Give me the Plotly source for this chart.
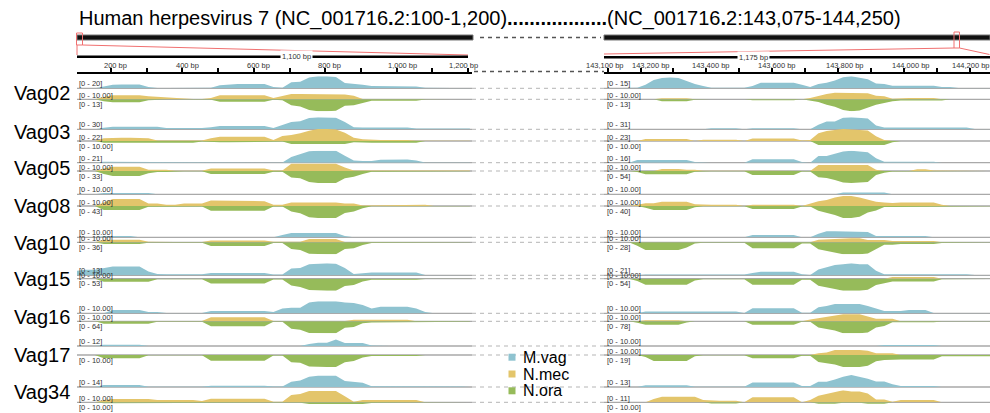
import plotly.graph_objects as go

# ---------------------------------------------------------------- data
SAMPLES = ["Vag02", "Vag03", "Vag05", "Vag08", "Vag10", "Vag15", "Vag16", "Vag17", "Vag34"]
SERIES = ["M.vag", "N.mec", "N.ora"]

LEFT_BP = list(range(105, 1206, 25))        # 45 bins, NC_001716.2:100-1,200
RIGHT_BP = list(range(143090, 144266, 25))  # 48 bins, NC_001716.2:143,075-144,250

# data-range labels per sample (IGV autoscale)
L_RANGE_MVAG = ["20", "30", "21", "10.00", "10.00", "13", "10.00", "12", "14"]
L_RANGE_NMEC = ["10.00", "22", "10.00", "10.00", "10.00", "10.00", "10.00", None, "10.00"]
L_RANGE_NORA = ["13", "10.00", "33", "43", "36", "53", "64", "10.00", "10.00"]
R_RANGE_MVAG = ["15", "31", "16", "10.00", "10.00", "21", "10.00", "10.00", "13"]
R_RANGE_NMEC = ["10.00", "23", "10.00", "10.00", "10.00", "10.00", "10.00", "10.00", "11"]
R_RANGE_NORA = ["13", "10.00", "54", "40", "28", "54", "78", "19", "10.00"]

LEFT_TICKS = list(range(200, 1201, 100))
RIGHT_TICKS = list(range(143100, 144201, 100))
LEFT_LABEL_VALS = [200, 400, 600, 800, 1000, 1200]
LEFT_LABEL_TEXT = ["200 bp", "400 bp", "600 bp", "800 bp", "1,000 bp", "1,200 bp"]
RIGHT_LABEL_VALS = [143100, 143200, 143400, 143600, 143800, 144000, 144200]
RIGHT_LABEL_TEXT = ["143,100 bp", "143,200 bp", "143,400 bp", "143,600 bp",
                    "143,800 bp", "144,000 bp", "144,200 bp"]

# ---- left panel coverage (LEFT_BP bins)
L_VAG02_MVAG = [0,0,0,3,6, 6.5,6.5,6.5,2,0.5, 0.5,0.5,0.5,0.5,0.5, 1,5,6.5,7,7, 7,7,2,1,10,
                11,18,20,20,19, 9,8,6,4,4, 4,4,4,3,1, 0.5,0.5,0.5,0.5,0.5]
L_VAG02_NMEC = [0,0,0,2,3.3, 3.3,3.3,3.3,2.5,2, 1.5,1,0.3,0.3,0.3, 1,3.3,3.3,3.3,3.3, 3.3,3.3,1,3,4.5,
                4.5,4.5,4.5,4.5,4.5, 4,3,0.3,0.3,0.3, 0.3,0.3,0.3,0.3,0.3, 0.3,0.3,0,0,0]
L_VAG02_NORA = [0,0,0,2,3.3, 3.3,3.3,3.3,1,0.3, 0.3,0.3,0.3,0.3,0.3, 0.5,2.6,2.6,2.6,2.6, 2.6,2.6,0.5,1,6.5,
                7.8,11.5,13,13,12.5, 7,6.5,4,1.5,1.5, 1.5,1.5,1.5,1.5,0.3, 0,0,0,0,0]
L_VAG03_MVAG = [0,0,0,4,6.5, 6.5,6.5,6.5,6.5,6.5, 3,3,3,3,3, 5,8.5,8.5,8.5,8.5, 8.5,8.5,3,10,18,
                20,28,30,30,29, 18,5,4.5,4.5,4.5, 4.5,4.5,4.5,2,2, 2,2,2,2,2]
L_VAG03_NMEC = [0,0,0,5,6, 6,6,6,5,1, 1,1,1,1,1, 5,8,8,8,8, 8,8,2,9,11,
                14,19,22,22,21, 15,6,3,2,2, 2,2,2,0.3,0.3, 0.3,0.3,0.3,0.3,0.3]
L_VAG03_NORA = [0,0,0,1.5,1.5, 1.5,1.5,1.5,1,1.5, 1.5,1.5,1.5,1.5,0.5, 1,1,1,1,1, 1,1,0.5,0.5,2.5,
                2.5,2.5,2.5,2.5,2.5, 2.5,1,1.5,1.5,1.5, 1.5,1.5,1.5,1.5,0, 0,0,0,0,0]
L_VAG05_MVAG = [0,0,0,1.5,1.5, 1.5,1.5,1.5,0.3,0.3, 0.3,0.3,0.3,0.3,0.3, 0.3,0.3,0.3,0.3,0.3, 0.3,0.3,0.3,0.3,10,
                15,20,21,21,21, 12,4,3,3,5, 5.5,5.5,5.5,4,0.5, 0.5,0.5,0.5,0.5,0.5]
L_VAG05_NMEC = [0,0,0,2,3.6, 3.6,3.6,3.6,1,1, 1,0.3,0.3,0.3,0.3, 2,2,2,2,2, 2,2,0.5,0.5,6,
                6,6,6,6,6, 3,0.5,0.5,0.5,0.5, 0.5,0.5,0.5,0.5,0.5, 0.5,0.5,0.5,0.5,0.5]
L_VAG05_NORA = [0,0,0,8,14, 14,14,14,6,3, 3,1,1,1,1, 8,8,8,8,8, 8,8,2,2,18,
                20,30,33,33,33, 20,16,8,2,2, 2,2,2,2,0.5, 0.5,0.5,0.5,0.5,0.5]
L_VAG08_MVAG = [0,0,0,1,1, 1,1,1,1,0] + [0] * 35
L_VAG08_NMEC = [0,0,0,3,5.8, 5.8,5.8,5.8,2,2, 1,1,2,2,2, 4.5,4.5,4,4,4, 4,4,1,1,3,
                3,3,3,3,3, 2,2,0.5,0.5,1, 1,1,1,1,1, 0,0,0,0,0]
L_VAG08_NORA = [0,0,0,14,14, 14,14,14,3,3, 2,2,2,2,2, 17,17,17,17,17, 17,17,2,2,20,
                26,40,43,43,43, 25,20,8,1,1, 1,1,1,1,1, 1,1,1,1,1]
L_VAG10_MVAG = [0,0,0,1,1, 1,1,0,0,0, 0,0,0,0,0, 0,0,0,0,0, 0,0,0,2,3.5,
                3.5,3.5,3.5,3.5,3.5, 1,0,0,0,0, 0,0,0,0,0, 0,0,0,0,0]
L_VAG10_NMEC = [0,0,0,2.2,2.2, 2.2,2.2,2.2,0.5,0.2, 0.2,0.2,0.2,0.2,0.2, 1.4,1.4,1.4,1.4,1.4, 1.4,1.4,0.5,0.5,0.5,
                0.5,2.8,2.8,2.8,2.8, 0.3,0.3,0.3,0.3,0.3, 0.3,0.3,0.3,0.3,0, 0,0,0,0,0]
L_VAG10_NORA = [0,0,0,5,5, 5,5,5,1,1, 1,1,1,1,1, 11,11,11,11,11, 11,11,2,2,20,
                23,34,36,36,36, 20,18,8,2,2, 2,2,2,2,0.5, 0.5,0.5,0.5,0.5,0.5]
L_VAG15_MVAG = [5,6,6,8,9.5, 9.5,9.5,9.5,4,1.5, 1.2,1.2,1.2,1.2,1.2, 2.6,2.6,2.6,2.6,2.6, 2.6,2.6,1,1,7.5,
                8,12,12.5,13,12.5, 8,1.5,2.5,3,3, 3,3,3,3,0.3, 0.3,0.3,0.3,0.3,0.3]
L_VAG15_NMEC = [0,0,0,0.2,0.2, 0.2,0.2,0.2,0.2,0, 0,0,0,0,0, 0.2,0.2,0.2,0.2,0.2, 0.2,0.2,0,0,0.3,
                0.3,0.3,0.3,0.3,0.3, 0.3,0,0,0,0, 0,0,0,0,0, 0,0,0,0,0]
L_VAG15_NORA = [0,0,0,13,13, 13,13,13,13,2, 2,2,2,2,2, 21,21,21,21,21, 21,21,3,3,30,
                37,50,53,53,53, 32,28,12,5,5, 5,5,5,5,1, 1,1,1,1,1]
L_VAG16_MVAG = [0,0,0,0,2.8, 2.8,2.8,2.8,1,1, 0.3,0.3,0.3,0.3,0.3, 2,2,2,2,2, 2,2,1,4,4.7,
                4.7,9,10,10,10, 9,8.5,7,4,5.5, 5.5,5.5,5.5,4,1, 0,0,0,0,0]
L_VAG16_NMEC = [0.2,0.2,0.2,0.2,0.2, 0.2,0.2,0.2,0.2,0.2, 0.2,0.2,0.2,0.2,0.2, 3.3,3.3,3.3,3.3,3.3, 3.3,3.3,0.2,0.2,0.2,
                0.2,0.2,0.2,0.2,0.2, 0.2,1.2,1.2,1.2,1.2, 1.2,1.2,1.2,0,0, 0,0,0,0,0]
L_VAG16_NORA = [0,0,0,13,13, 13,13,13,13,3, 3,3,3,3,3, 27,27,27,27,27, 27,27,3,3,40,
                45,62,64,64,64, 35,30,10,6,6, 6,6,6,6,3, 3,3,3,3,3]
L_VAG17_MVAG = [0,0,0,1.2,1.2, 1.2,1.2,1.2,0,0, 0,0,0,0,0, 0,0,0,0,0, 0,0,0,0,0,
                0,2,3.3,3.3,6.5, 3,3,3,0.5,0, 0,0,0,0,0, 0,0,0,0,0]
L_VAG17_NMEC = None
L_VAG17_NORA = [0,0,0,2.8,2.8, 2.8,2.8,2.8,0.3,0.3, 0.3,0.3,0.3,0.3,0.3, 4.7,4.7,4.7,4.7,4.7, 4.7,4.7,0.5,0.5,6,
                6.5,9.5,10,10,10, 6,5,2,0.8,0.8, 0.8,0.8,0.8,0.8,0, 0,0,0,0,0]
L_VAG34_MVAG = [0,0,0,2.4,2.4, 2.4,2.4,2.4,0.3,0.3, 0.3,0.3,0.3,0.3,0.3, 1.4,1.4,1.4,1.4,1.4, 1.4,1.4,0.5,0.5,6,
                7.5,12,13,13,13, 7,6,5,1,1, 1,1,1,1,0.3, 0.7,0.7,0.7,0.7,0]
L_VAG34_NMEC = [0,0,0,2,2.8, 2.8,2.8,2.8,2.8,2, 2,2,2,2,1, 3,3,3,3,3, 3,3,0.5,0.5,6,
                7,9.4,9.4,9.4,9.4, 5,0.5,2,2,2, 2,2,2,2,0, 0,0,0,0,0]
L_VAG34_NORA = [0,0,0,0.8,0.8, 0.8,0.8,0.8,0.8,0.8, 0.8,0.8,0.8,0.8,0.3, 0.3,0.3,0.3,0.3,0.3, 0.3,0.3,0.3,0.3,0.3,
                0.3,1.5,1.5,1.5,1.5, 1.5,1.5,1.5,0.5,0.5, 0.5,0.5,0.5,0.5,0, 0,0,0,0,0]

# ---- right panel coverage (RIGHT_BP bins)
R_VAG02_MVAG = [0,0,0,0,0.8, 4.5,10.5,12.8,13.5,12.8, 9,5.3,3,0.8,0.8, 0.8,0.8,0.8,3,7, 7,7,7,7,4.5,
                1.5,5.3,6.8,9.8,13.8, 15,13.5,11.3,6,5.3, 3.3,3.3,3.3,3.3,3.3, 3.3,1.5,1.5,0.5,0.5, 0.5,0.5,0.5]
R_VAG02_NMEC = [0,0,0,0,0, 0,0,0.8,0.8,0.8, 0.8,0,0,0,0, 0,0,0,0,0, 0,0,0,0,0,
                1,3,4.5,5.5,5.5, 5.5,5.5,5,3,2.5, 0.5,1,1,1,1, 1,0,0,0,0, 0,0,0]
R_VAG02_NORA = [0,0,0,0,0, 0,0,2.2,2.2,2.2, 2.2,0.5,0,0,0, 0,0,0,1,1, 1,1,1,1,0,
                1.5,3,6,8,11.5, 13,12,9,6,4, 2,1.3,1.3,1.3,1.3, 1.3,1.3,0,0,0, 0,0,0]
R_VAG03_MVAG = [0,0,0,0,0, 1.5,1.5,1.5,1.5,1.5, 1.5,0,0,3,3, 3,3,0,3,3, 3,3,3,3,0,
                0,12,20,20,30, 31,30,28,10,4.5, 4.5,4.5,4.5,4.5,4.5, 4.5,4.5,4.5,4.5,4.5, 1,1,1]
R_VAG03_NMEC = [0,0,0,0,0, 4,4,4,4,4, 4,0,2.5,2.5,2.5, 2.5,2.5,0,5,5, 5,5,5,5,1,
                2,15,19,21,23, 22,21,20,9,2, 0,0,0,0,0, 0,0,0,0,0, 0,0,0]
R_VAG03_NORA = [0,0,0,0,0, 0,0,0,0,0, 0,0,0,0,0, 0,0,0,0.5,0.5, 0.5,0.5,0.5,0.5,0,
                0,3.3,3.3,3.3,3.3, 3.3,3.3,3.3,3.3,3.3, 1,0,0,0,0, 0,0,0,0,0, 0,0,0]
R_VAG05_MVAG = [0,0,0,0,3.5, 3.5,3.5,3.5,3.5,3.5, 3.5,1,0,0,0, 0,0,0,4.5,4.5, 4.5,4.5,4.5,4.5,1,
                0,8.8,9,12,15, 16,15,14,6,1.3, 1.3,1.3,1.3,1.3,1.3, 1.3,0,0,0,0, 0,0,0]
R_VAG05_NMEC = [0,0,0,0,0, 0,0,1.7,1.7,1.7, 1,1,0.3,0.3,0.3, 0,0,0,0,0, 0,0,0,0,0,
                0,5,5,5,5, 5,5,5,1,0, 0,0,0,1.5,1.5, 0.5,0.5,0.5,0.5,0.5, 0,0,0]
R_VAG05_NORA = [0,0,0,0,5, 15,15,15,15,15, 15,3,1,1,1, 1,1,1,18,18, 18,18,18,18,2,
                2,28,32,40,52, 54,52,50,18,8, 2,2,2,2,2, 2,2,2,2,2, 0.5,0.5,0.5]
R_VAG08_MVAG = [0] * 29 + [1.4, 1.4, 1.4, 1.4, 1.4, 1.4] + [0] * 13
R_VAG08_NMEC = [0,0,0,0,1, 2.2,2.2,3.6,3.6,3.6, 3.6,1.5,1,1,1, 1,1,0,1,1, 1,1,1,1,0,
                2,4,5,7,8.3, 8.3,7,5,3.5,3, 2.5,3,3,3,3, 3,1,0,0,0, 0,0,0]
R_VAG08_NORA = [0,0,0,0,0, 6,13,13,13,13, 13,4,1,1,1, 1,1,1,10,10, 10,10,10,10,1.5,
                1.5,16,22,30,40, 40,36,22,15,3, 3,3,3,3,3, 3,3,0.5,0.5,0.5, 0.5,0.5,0.5]
R_VAG10_MVAG = [0,0,0,0,0, 0,0,0,0,0, 0,0,0,0,0, 0,0,0,2,2, 2,2,2,2,0,
                0,3,5,5,5, 5,5,4.5,1,1, 1,1,1,1,1, 0,0,0,0,0, 0,0,0]
R_VAG10_NMEC = [0,0,0,0,0, 0,0,0.6,0.6,0.6, 0.6,0.6,0.6,0.6,0.6, 0.6,0.6,0,0,0, 0,0,0,0,0,
                0,2.2,2.5,3.3,3.3, 3.3,3.3,2,2,2, 1,1,1,1,1, 1,0,0,0,0, 0,0,0]
R_VAG10_NORA = [0,0,0,0,8, 18,18,18,18,18, 12,3,1,1,1, 1,1,1,14,14, 14,14,14,14,3,
                3,16,20,25,28, 28,28,26,15,6, 6,4,4,4,4, 4,1.5,1.5,1.5,1.5, 1.5,0.5,0.5]
R_VAG15_MVAG = [0,0,0,0,0, 1.5,1.5,1.5,1.5,1.5, 1.5,1.5,1.5,1.5,1.5, 1.5,1.5,1.5,4,6, 6,6,6,6,2,
                0.5,10,14,18,19.5, 21,19.5,19.5,8,2, 2,2,2,2,2, 2,2,2,2,2, 0.5,0.5,0.5]
R_VAG15_NMEC = [0] * 35 + [1.5, 1.5, 1.5, 1.5, 1.5, 1.5] + [0] * 7
R_VAG15_NORA = [0,0,0,0,10, 27,27,27,27,27, 27,8,2,2,2, 2,2,2,27,27, 27,27,27,27,5,
                5,32,38,46,54, 54,54,50,28,20, 13,13,13,13,13, 13,3,3,3,3, 3,1,1]
R_VAG16_MVAG = [0,0,0,0,0, 1.4,1.4,1.4,1.4,1.4, 1.4,1.4,1.4,1.4,1.4, 1.4,1.4,0.2,4.2,4.2, 4.2,4.2,4.2,4.2,0.5,
                0.5,5,6,7.8,7.8, 7.8,7.8,6,4,2, 2,2,2.8,2.8,2.8, 0.2,0.2,0.2,0.2,0.2, 0.2,0.2,0.2]
R_VAG16_NMEC = [0,0,0,0,0, 0.8,0.8,0.8,0.8,0.8, 0,0,0,0,0, 0,0,0,0,0, 0,0,0,0,0,
                1.5,2.5,3.6,4.5,5.8, 5.8,5.8,4,2.2,2.2, 2.2,0,0,0,0, 0,0,0,0,0, 0,0,0]
R_VAG16_NORA = [0,0,0,0,10, 22,22,22,22,22, 8,0,0,0,0, 0,0,0,22,22, 22,22,22,22,3,
                3,40,50,60,78, 78,78,72,40,30, 6,6,6,6,6, 6,1,1,1,1, 1,1,1]
R_VAG17_MVAG = [0] * 34 + [0.8] * 7 + [0] * 7
R_VAG17_NMEC = [0] * 26 + [1.5, 2, 4.2, 4.2, 4.2, 4.2, 3.5, 1.4, 1.4, 1.4] + [0] * 12
R_VAG17_NORA = [0,0,0,0,0, 3,9.5,9.5,9.5,9.5, 9.5,2,0.5,0.5,0.5, 0.5,0.5,0.5,5.3,5.3, 5.3,5.3,5.3,5.3,1,
                1,11,13,15,19, 19,19,17,10,8, 7,7,7,7,7, 7,2,2,2,2, 2,2,2]
R_VAG34_MVAG = [0,0,0,0,0, 1.8,1.8,1.8,1.8,1.8, 1.8,0.3,0.3,0.3,0.3, 0.3,0.3,0.3,5,5, 5,5,5,5,1,
                1,5.8,5.8,8,11.2, 13,11.2,9,6,6, 3,1,1,1,1, 1,0,0,0,0, 0,0,0]
R_VAG34_NMEC = [0,0,0,0,0, 0,3,5.2,5.2,5.2, 5.2,5.2,2,1.5,1.5, 1.5,1.5,0,4.6,4.6, 4.6,4.6,4.6,4.6,0,
                2,6,7.7,10,11, 10,10,8,2.5,2.5, 0.5,2.2,2.2,2.2,2.2, 2.2,0,0,0,0, 0,0,0]
R_VAG34_NORA = [0,0,0,0,0, 0,0,0,0,0, 0,0,0,1,1, 1,1,0,0,0, 0,0,0,0,0,
                0,1.2,1.2,1.2,0.3, 0.3,0.3,1.2,1.2,1.2, 0,0,0,0,0, 0,0,0,0,0, 0,0,0]

LEFT_DATA = [
    (L_VAG02_MVAG, L_VAG02_NMEC, L_VAG02_NORA), (L_VAG03_MVAG, L_VAG03_NMEC, L_VAG03_NORA),
    (L_VAG05_MVAG, L_VAG05_NMEC, L_VAG05_NORA), (L_VAG08_MVAG, L_VAG08_NMEC, L_VAG08_NORA),
    (L_VAG10_MVAG, L_VAG10_NMEC, L_VAG10_NORA), (L_VAG15_MVAG, L_VAG15_NMEC, L_VAG15_NORA),
    (L_VAG16_MVAG, L_VAG16_NMEC, L_VAG16_NORA), (L_VAG17_MVAG, L_VAG17_NMEC, L_VAG17_NORA),
    (L_VAG34_MVAG, L_VAG34_NMEC, L_VAG34_NORA)]
RIGHT_DATA = [
    (R_VAG02_MVAG, R_VAG02_NMEC, R_VAG02_NORA), (R_VAG03_MVAG, R_VAG03_NMEC, R_VAG03_NORA),
    (R_VAG05_MVAG, R_VAG05_NMEC, R_VAG05_NORA), (R_VAG08_MVAG, R_VAG08_NMEC, R_VAG08_NORA),
    (R_VAG10_MVAG, R_VAG10_NMEC, R_VAG10_NORA), (R_VAG15_MVAG, R_VAG15_NMEC, R_VAG15_NORA),
    (R_VAG16_MVAG, R_VAG16_NMEC, R_VAG16_NORA), (R_VAG17_MVAG, R_VAG17_NMEC, R_VAG17_NORA),
    (R_VAG34_MVAG, R_VAG34_NMEC, R_VAG34_NORA)]

# ---------------------------------------------------------------- layout constants
W, H = 990, 413
def fx(p): return min(max(p / W, 0.0), 1.0)
def fy(p): return min(max(1 - p / H, 0.0), 1.0)

FONT = "Liberation Sans, Arial, Helvetica, sans-serif"
COLORS = ["#8fc3d0", "#e3c56b", "#96bb5a"]
LABEL_C = "#333333"
BASE_C = "#a9a9a9"

LX0, LX1, RX0, RX1 = 77, 472, 604, 990
LEFT_RANGE = [105, 1211]
RIGHT_RANGE = [143089, 144261]
TRACK_H = 12
BASE_MVAG = [88.3, 129.3, 162.7, 194.3, 237.3, 275.3, 313.3, 346, 387]
BASE_YG = [99.3, 141, 171, 206, 242.3, 278.7, 321.3, 355, 402.3]
NAME_Y = [92.5, 131.5, 167.5, 205.5, 242.5, 278.5, 316.5, 354.5, 391.5]

fig = go.Figure()
layout = dict(width=W, height=H, margin=dict(l=0, r=0, t=0, b=0),
              paper_bgcolor="white", plot_bgcolor="rgba(0,0,0,0)",
              showlegend=False, hovermode=False, font=dict(family=FONT))
shapes, annos = [], []

layout["xaxis"] = dict(domain=[fx(LX0), fx(LX1)], range=LEFT_RANGE, visible=False, anchor="y")
layout["xaxis2"] = dict(domain=[fx(RX0), fx(RX1)], range=RIGHT_RANGE, visible=False, anchor="y")
layout["yaxis"] = dict(domain=[fy(71.5), fy(60)], range=[0, 1], visible=False, anchor="x")
ruler = dict(anchor="y", side="bottom", showline=True, linecolor="black", linewidth=2,
             ticks="inside", ticklen=4, tickwidth=2, tickcolor="black",
             showticklabels=False, showgrid=False, zeroline=False)
layout["xaxis3"] = dict(domain=[fx(LX0), fx(LX1)], range=LEFT_RANGE, tickvals=LEFT_TICKS, **ruler)
layout["xaxis4"] = dict(domain=[fx(RX0), fx(RX1)], range=RIGHT_RANGE, tickvals=RIGHT_TICKS, **ruler)
for xa, rng in (("x3", LEFT_RANGE), ("x4", RIGHT_RANGE)):
    fig.add_trace(go.Scatter(x=[rng[0]], y=[0], xaxis=xa, yaxis="y", mode="markers",
                             marker=dict(opacity=0), hoverinfo="skip"))

# ---------------------------------------------------------------- tracks
n = 2
panels = [("x", LEFT_BP, LEFT_DATA, (L_RANGE_MVAG, L_RANGE_NMEC, L_RANGE_NORA), LX0, LX1),
          ("x2", RIGHT_BP, RIGHT_DATA, (R_RANGE_MVAG, R_RANGE_NMEC, R_RANGE_NORA), RX0, RX1)]
for xa, bp, data, ranges, x0, x1 in panels:
    for i, s in enumerate(SAMPLES):
        B, G = BASE_MVAG[i], BASE_YG[i]
        for t in range(3):
            vals = data[i][t]
            lab = ranges[t][i]
            if vals is None:
                continue
            vals = (list(vals) + [0] * len(bp))[:len(bp)]
            vmax = float(lab)
            if t == 0:
                dom, rng, ly = [fy(B), fy(B - TRACK_H)], [0, vmax], B - 4.5
            elif t == 1:
                dom, rng, ly = [fy(G), fy(G - TRACK_H)], [0, vmax], G - 3.5
            else:
                bottom = min(G + TRACK_H, H)
                dom = [fy(bottom), fy(G)]
                rng = [vmax * (bottom - G) / TRACK_H, 0]
                ly = G + 5
            layout[f"yaxis{n}"] = dict(domain=dom, range=rng, visible=False, anchor=xa)
            fig.add_trace(go.Scatter(x=bp, y=vals, xaxis=xa, yaxis=f"y{n}", mode="lines",
                                     fill="tozeroy", fillcolor=COLORS[t],
                                     line=dict(width=0, color=COLORS[t]),
                                     name=f"{s} {SERIES[t]}", hoverinfo="skip"))
            annos.append(dict(text=f"[0 - {lab}]", x=fx(x0 + (0 if xa == "x" else 1)), y=fy(ly),
                              xref="paper", yref="paper", xanchor="left", yanchor="middle",
                              showarrow=False, font=dict(size=7.5, color=LABEL_C)))
            n += 1
        for yb in (B, G):
            shapes.append(dict(type="line", xref="paper", yref="paper", x0=fx(x0), x1=fx(x1),
                               y0=fy(yb), y1=fy(yb), line=dict(color=BASE_C, width=1.3),
                               layer="below"))

# dashed connectors between panels
for i in range(len(SAMPLES)):
    for yb in (BASE_MVAG[i], BASE_YG[i]):
        shapes.append(dict(type="line", xref="paper", yref="paper", x0=fx(LX1), x1=fx(RX0),
                           y0=fy(yb), y1=fy(yb), line=dict(color="#b5b5b5", width=1, dash="4px,4px")))
shapes.append(dict(type="line", xref="paper", yref="paper", x0=fx(474), x1=fx(RX0),
                   y0=fy(71.5), y1=fy(71.5), line=dict(color="#555", width=1.5, dash="4px,4px")))
shapes.append(dict(type="line", xref="paper", yref="paper", x0=fx(480), x1=fx(601),
                   y0=fy(37.5), y1=fy(37.5), line=dict(color="#555", width=1.5, dash="4px,4px")))

# chromosome ideograms
for a, b in ((LX0, 473), (RX0, RX1)):
    shapes.append(dict(type="rect", xref="paper", yref="paper", x0=fx(a), x1=fx(b),
                       y0=fy(40), y1=fy(35), fillcolor="#111", line=dict(color="#777", width=1)))
# red region markers & zoom lines
RED = "#f07070"
shapes += [
    dict(type="rect", xref="paper", yref="paper", x0=fx(76.5), x1=fx(82.5), y0=fy(45), y1=fy(33),
         line=dict(color=RED, width=1)),
    dict(type="line", xref="paper", yref="paper", x0=fx(77), x1=fx(77), y0=fy(45), y1=fy(55),
         line=dict(color=RED, width=1)),
    dict(type="line", xref="paper", yref="paper", x0=fx(82.5), x1=fx(468), y0=fy(45), y1=fy(55),
         line=dict(color=RED, width=1)),
    dict(type="rect", xref="paper", yref="paper", x0=fx(954), x1=fx(959.5), y0=fy(48), y1=fy(32),
         line=dict(color=RED, width=1)),
    dict(type="line", xref="paper", yref="paper", x0=fx(954), x1=fx(604), y0=fy(48), y1=fy(54),
         line=dict(color=RED, width=1)),
    dict(type="line", xref="paper", yref="paper", x0=fx(959.5), x1=fx(989.5), y0=fy(48), y1=fy(54.5),
         line=dict(color=RED, width=1)),
]
# scale bars
for a, b, yy, txt, cx in ((LX0, 468, 56.8, "1,100 bp", 296), (RX0, RX1, 57.3, "1,175 bp", 753)):
    shapes.append(dict(type="line", xref="paper", yref="paper", x0=fx(a), x1=fx(b),
                       y0=fy(yy), y1=fy(yy), line=dict(color="black", width=2.5)))
    annos.append(dict(text=txt, x=fx(cx), y=fy(yy), xref="paper", yref="paper",
                      xanchor="center", yanchor="middle",
                      showarrow=False, bgcolor="white", borderpad=1,
                      font=dict(size=7.5, color=LABEL_C)))

# ruler tick labels
L_SHIFT = [5, 5, 4.6, 4, 5.8, -4.6]
R_SHIFT = [-2.6, 10, 4.3, 5, 6.9, 6.7, 1.5]
for vals, texts, shifts, xa in ((LEFT_LABEL_VALS, LEFT_LABEL_TEXT, L_SHIFT, "x3"),
                                (RIGHT_LABEL_VALS, RIGHT_LABEL_TEXT, R_SHIFT, "x4")):
    for v, t, sh in zip(vals, texts, shifts):
        annos.append(dict(text=t, x=v, y=fy(65.2), xref=xa, yref="paper", xshift=sh,
                          xanchor="center", yanchor="middle",
                          showarrow=False, font=dict(size=7.5, color=LABEL_C)))

# sample names
for s, yc in zip(SAMPLES, NAME_Y):
    annos.append(dict(text=s, x=fx(12), y=fy(yc), xref="paper", yref="paper",
                      xanchor="left", yanchor="middle", showarrow=False,
                      font=dict(size=20, color="black")))

# title
title = ("Human herpesvirus 7 (NC_001716<b>.</b>2:100-1,200)<b>" + "." * 18 +
         "</b>(NC_001716<b>.</b>2:143,075-144,250)")
annos.append(dict(text=title, x=fx(77), y=fy(18.5), xref="paper", yref="paper",
                  xanchor="left", yanchor="middle", showarrow=False,
                  font=dict(size=20, color="black")))

# legend
for name, c, yc in zip(SERIES, COLORS, [357.2, 374, 390.8]):
    shapes.append(dict(type="rect", xref="paper", yref="paper", x0=fx(508.5), x1=fx(515.5),
                       y0=fy(yc + 3.5), y1=fy(yc - 3.5), fillcolor=c, line=dict(width=0)))
    annos.append(dict(text=name, x=fx(520.5), y=fy(yc), xref="paper", yref="paper",
                      xanchor="left", yanchor="middle", showarrow=False,
                      font=dict(size=16, color="black")))

layout["shapes"] = shapes
layout["annotations"] = annos
fig.update_layout(**layout)
fig.write_html("out.html", config={"displayModeBar": False, "staticPlot": True},
               post_script="document.body.style.margin='0';document.body.style.padding='0';"
                           "document.body.style.overflow='hidden';")
